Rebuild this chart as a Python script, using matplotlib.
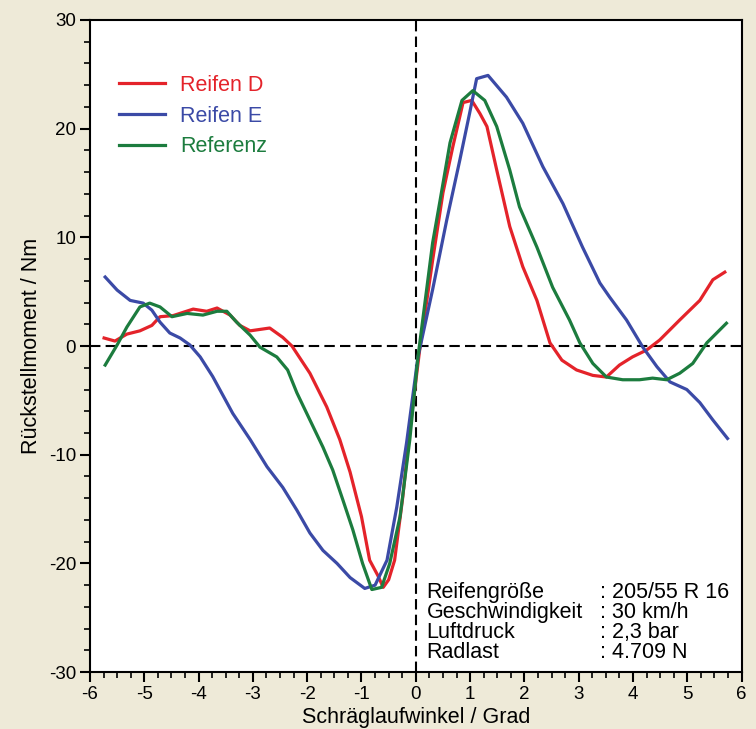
import matplotlib
matplotlib.use("Agg")
import matplotlib.pyplot as plt
from matplotlib.ticker import MultipleLocator

plt.rcParams['font.family'] = ['Liberation Sans', 'DejaVu Sans']
plt.rcParams['axes.unicode_minus'] = False

# ---------------------- Daten ----------------------
# Reifen D
d_x = [-5.74, -5.54, -5.32, -5.08, -4.86, -4.71, -4.47, -4.10, -3.85, -3.66, -3.42, -3.24,
       -3.05, -2.69, -2.45, -2.28, -1.95, -1.64, -1.40, -1.21, -1.00, -0.85, -0.70, -0.60,
       -0.50, -0.39, -0.24, -0.11, 0.07, 0.31, 0.50, 0.68, 0.87, 1.03, 1.18, 1.31, 1.49,
       1.73, 1.97, 2.23, 2.47, 2.69, 2.96, 3.26, 3.51, 3.75, 3.99, 4.25, 4.49, 4.86, 5.23,
       5.47, 5.69]
d_y = [0.74, 0.46, 1.1, 1.4, 1.9, 2.7, 2.8, 3.4, 3.2, 3.5, 2.85, 1.9,
       1.4, 1.66, 0.8, 0.0, -2.5, -5.6, -8.6, -11.6, -15.7, -19.7, -21.1, -22.2,
       -21.5, -19.7, -13.9, -7.7, -0.4, 7.9, 14.1, 18.3, 22.4, 22.6, 21.4, 20.2, 16.2,
       11.0, 7.3, 4.2, 0.3, -1.3, -2.2, -2.7, -2.85, -1.75, -1.0, -0.37, 0.55, 2.4, 4.2,
       6.1, 6.8]

# Reifen E
e_x = [-5.72, -5.50, -5.26, -5.02, -4.86, -4.71, -4.53, -4.34, -4.16, -3.97, -3.74, -3.37,
       -3.05, -2.74, -2.45, -2.19, -1.95, -1.71, -1.45, -1.21, -0.94, -0.75, -0.53, -0.35,
       -0.17, 0.04, 0.31, 0.57, 0.81, 0.99, 1.12, 1.33, 1.67, 1.97, 2.34, 2.71, 3.07, 3.39,
       3.57, 3.88, 4.18, 4.44, 4.68, 4.99, 5.23, 5.47, 5.74]
e_y = [6.35, 5.15, 4.2, 3.95, 3.3, 2.2, 1.2, 0.74, 0.1, -1.0, -2.8, -6.2,
       -8.6, -11.1, -13.0, -15.1, -17.2, -18.8, -20.0, -21.3, -22.3, -22.0, -19.7, -14.8,
       -8.9, -1.0, 5.2, 11.6, 17.1, 21.4, 24.6, 24.9, 22.9, 20.5, 16.5, 13.1, 9.1, 5.8,
       4.5, 2.4, -0.1, -1.9, -3.3, -4.0, -5.2, -6.8, -8.5]

# Referenz
r_x = [-5.72, -5.50, -5.32, -5.08, -4.90, -4.71, -4.49, -4.21, -3.92, -3.66, -3.48, -3.30,
       -3.05, -2.87, -2.56, -2.36, -2.19, -1.95, -1.71, -1.53, -1.34, -1.16, -0.98, -0.81,
       -0.63, -0.48, -0.29, -0.11, 0.04, 0.31, 0.44, 0.63, 0.85, 1.05, 1.27, 1.49, 1.73,
       1.91, 2.23, 2.52, 2.83, 3.02, 3.26, 3.51, 3.81, 4.12, 4.36, 4.62, 4.86, 5.10, 5.36,
       5.72]
r_y = [-1.75, 0.1, 1.75, 3.6, 3.95, 3.6, 2.7, 3.0, 2.85, 3.2, 3.2, 2.2,
       1.0, -0.1, -1.0, -2.2, -4.3, -6.8, -9.3, -11.4, -14.2, -16.9, -20.0, -22.4,
       -22.2, -20.0, -15.7, -8.6, -1.0, 9.5, 13.2, 18.7, 22.6, 23.5, 22.6, 20.2, 16.2,
       12.8, 9.1, 5.4, 2.4, 0.3, -1.6, -2.85, -3.1, -3.1, -2.95, -3.1, -2.5, -1.6, 0.3,
       2.1]

labels = ["Reifen D", "Reifen E", "Referenz"]
colors = ["#e4232a", "#3b4aa6", "#1c7c3e"]

info_keys = ["Reifengröße", "Geschwindigkeit", "Luftdruck", "Radlast"]
info_vals = [": 205/55 R 16", ": 30 km/h", ": 2,3 bar", ": 4.709 N"]

# ---------------------- Plot ----------------------
fig = plt.figure(figsize=(7.56, 7.29), dpi=100, facecolor="#eeead8")
ax = fig.add_axes([0.119, 0.078, 0.862, 0.8946])
ax.set_facecolor("white")

ax.axhline(0, color="black", lw=1.5, ls=(0, (5, 2.5)), zorder=1)
ax.axvline(0, color="black", lw=1.5, ls=(0, (5, 2.5)), zorder=1)

for xs, ys, lab, col in zip([d_x, e_x, r_x], [d_y, e_y, r_y], labels, colors):
    ax.plot(xs, ys, color=col, lw=2.3, label=lab, zorder=3)

ax.set_xlim(-6, 6)
ax.set_ylim(-30, 30)
ax.xaxis.set_major_locator(MultipleLocator(1))
ax.xaxis.set_minor_locator(MultipleLocator(0.25))
ax.yaxis.set_major_locator(MultipleLocator(10))
ax.yaxis.set_minor_locator(MultipleLocator(2))
ax.tick_params(which="major", length=7, width=1.5, labelsize=13.5, pad=3)
ax.tick_params(which="minor", length=4, width=1.2)
for sp in ax.spines.values():
    sp.set_linewidth(1.5)

ax.set_xlabel("Schräglaufwinkel / Grad", fontsize=15.5, labelpad=3)
ax.set_ylabel("Rückstellmoment / Nm", fontsize=15.5, labelpad=5)

ax.legend(loc="upper left", bbox_to_anchor=(0.031, 0.929), frameon=False,
          fontsize=15.5, labelcolor="linecolor", handlelength=2.15,
          handletextpad=0.7, labelspacing=0.45, borderaxespad=0)

for i, (k, v) in enumerate(zip(info_keys, info_vals)):
    y = -23.2 - i * 1.84
    ax.text(0.2, y, k, fontsize=15.5, va="baseline", ha="left")
    ax.text(3.39, y, v, fontsize=15.5, va="baseline", ha="left")

fig.savefig("out.png", dpi=100, facecolor=fig.get_facecolor())
